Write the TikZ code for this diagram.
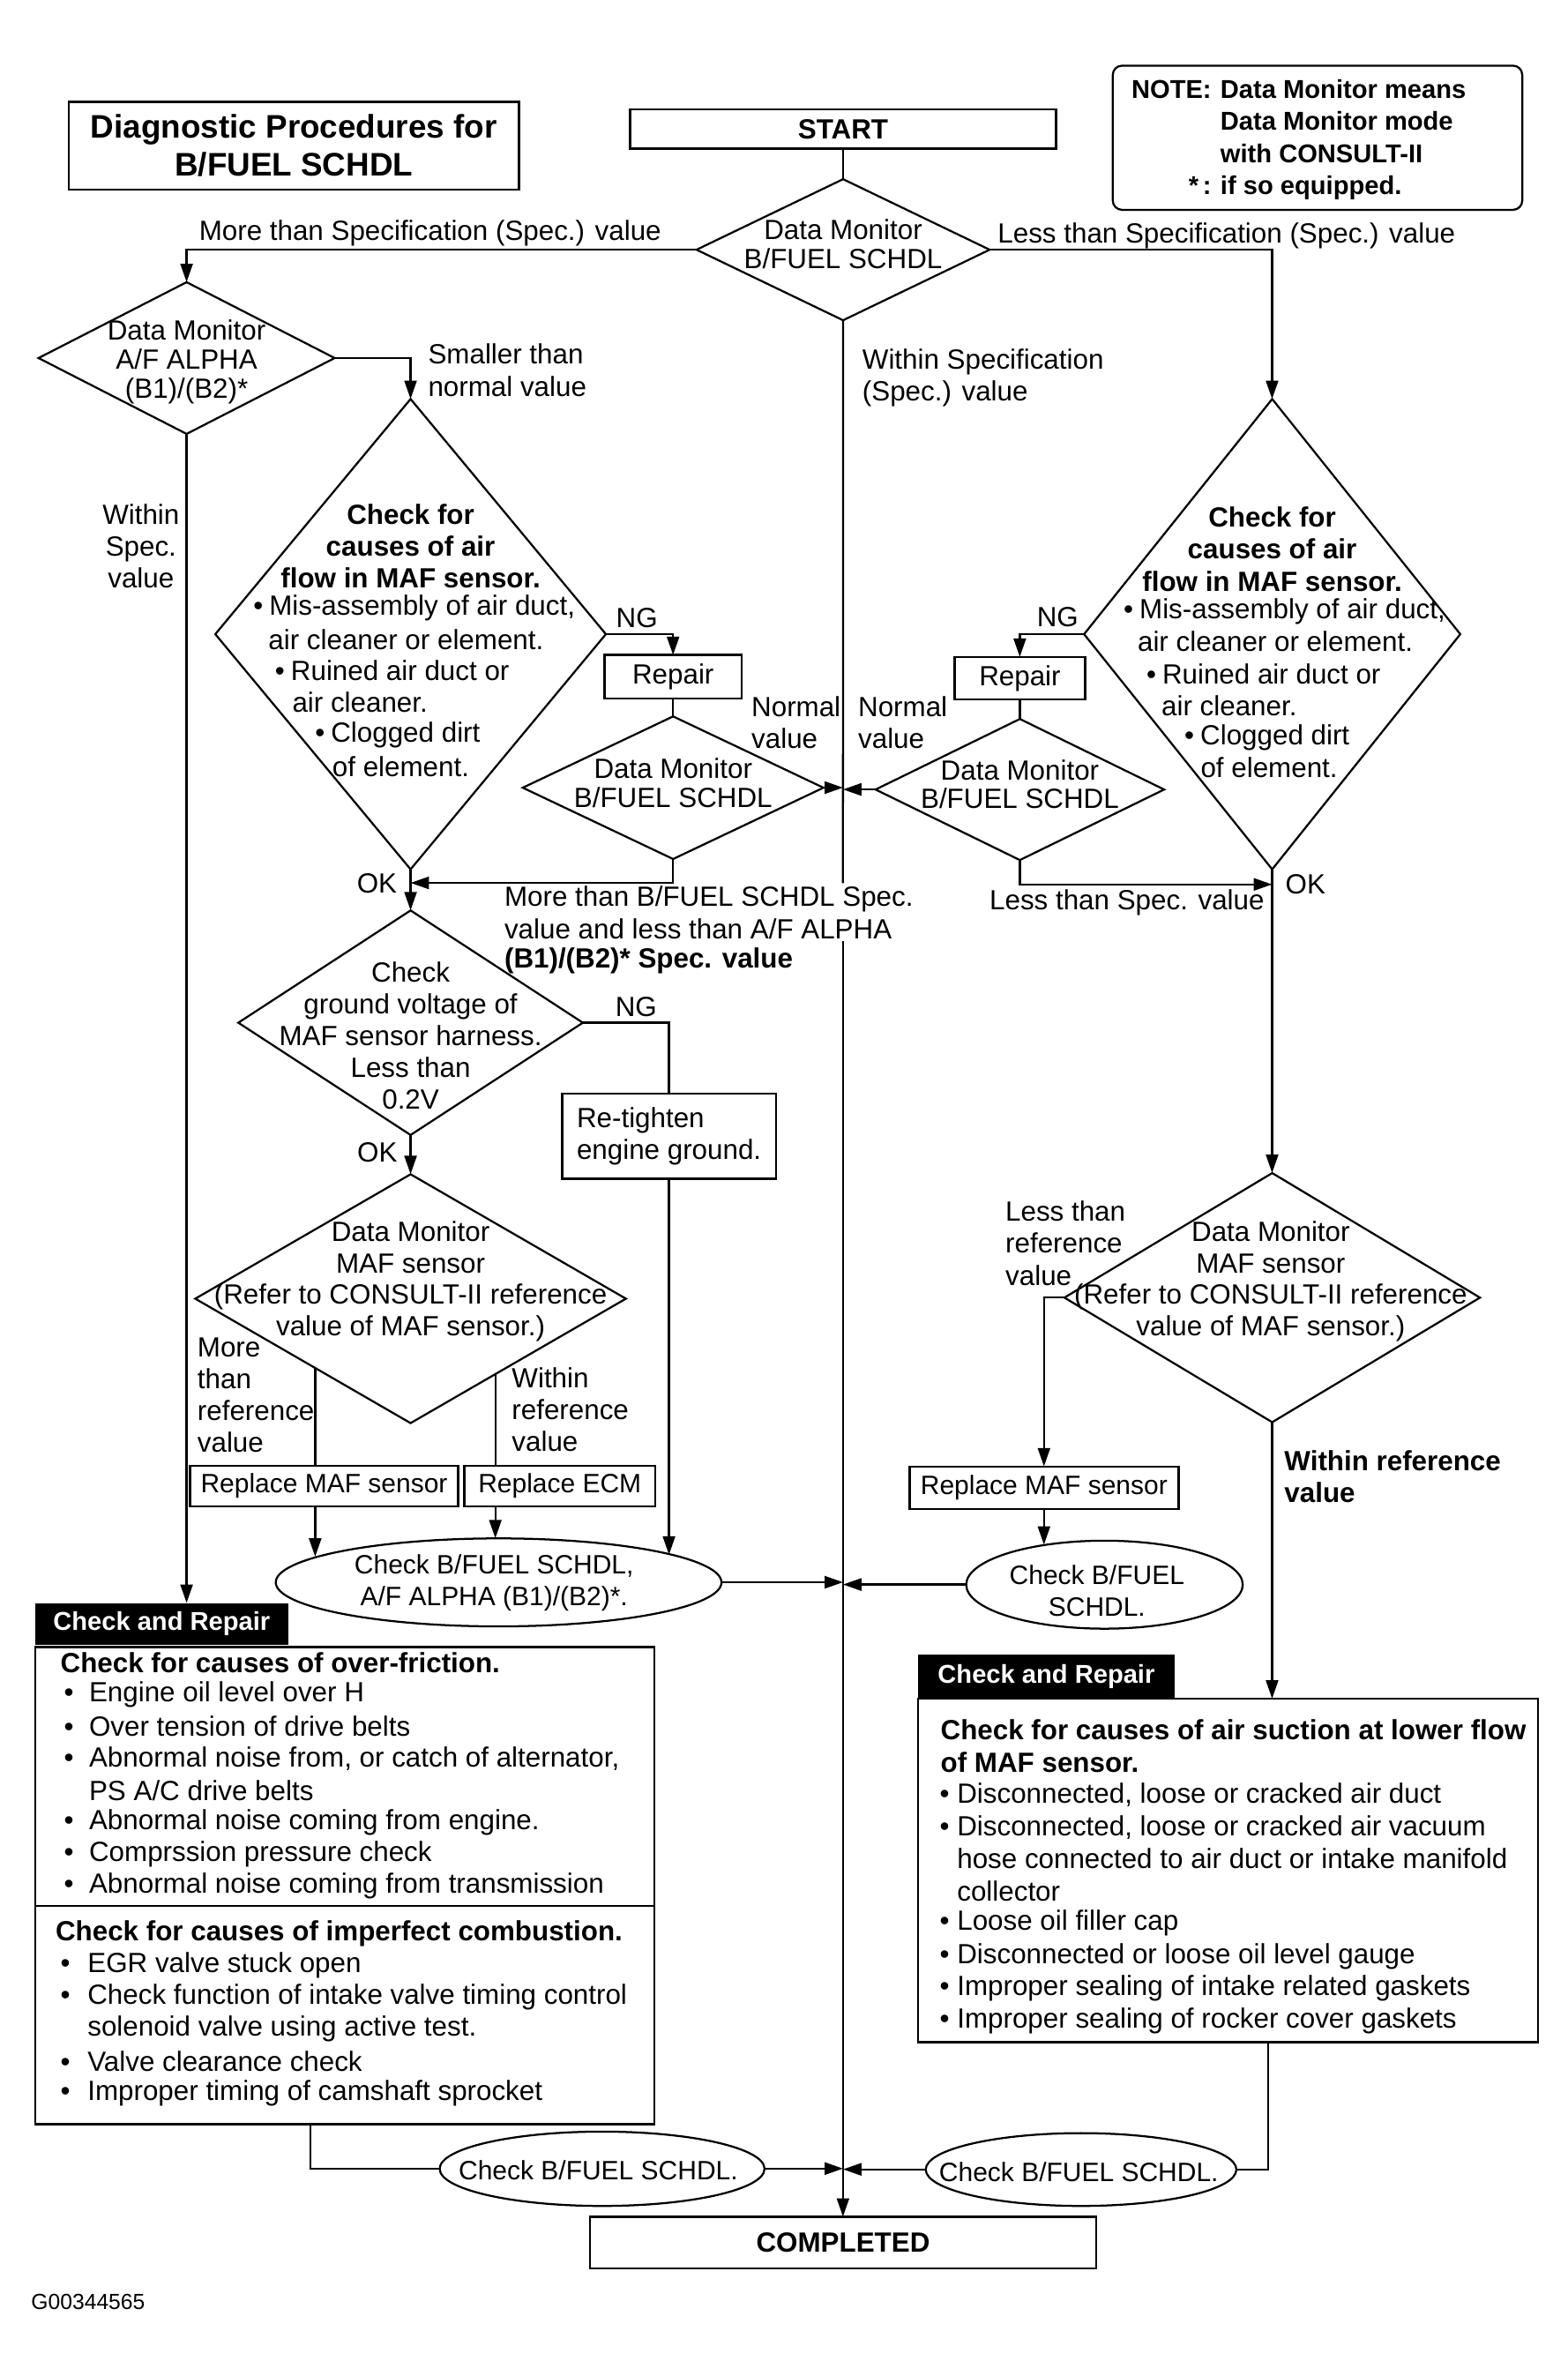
\documentclass[tikz,border=0pt]{standalone}
\usepackage{fontspec}
\setmainfont{Liberation Sans}
\usetikzlibrary{arrows.meta,shapes.geometric,calc}
\newcommand\mybul[1][10.5pt]{\makebox[#1][l]{\textbullet}}
\begin{document}
\begin{tikzpicture}[x=1pt,y=-1pt,xscale=0.987,yscale=0.991,
  every node/.style={inner sep=0pt, outer sep=0pt, transform shape, font=\fontsize{18.3}{21}\selectfont},
  ln/.style={line width=1.3pt},
  arr/.style={line width=1.3pt,-{Triangle[length=12pt,width=8pt]}},
  box/.style={draw, line width=1.4pt},
  dia/.style={draw, shape=diamond, line width=1.3pt, inner sep=0pt},
  ell/.style={draw, shape=ellipse, line width=1.3pt, inner sep=0pt},
  hdr/.style={fill=black, text=white, font=\bfseries\fontsize{17}{21}\selectfont},
  bf/.style={font=\bfseries\fontsize{18.3}{21}\selectfont},
  t19/.style={font=\fontsize{18.3}{19}\selectfont},
  t20/.style={font=\fontsize{18.3}{20.7}\selectfont},
  sm/.style={font=\fontsize{17.5}{21}\selectfont},
]
\fill[white] (0,0) rectangle (1037.5,1566.1);
\useasboundingbox (0,0) rectangle (1037.5,1566.1);

% ---------- header ----------
\node[box, line width=1.6pt, minimum width=298pt, minimum height=58pt, align=center,
      font=\bfseries\fontsize{21.5}{25}\selectfont] (title) at (194.5,96) {Diagnostic Procedures for\\B/FUEL SCHDL};
\node[box, minimum width=282pt, minimum height=26pt, bf] (start) at (558,85) {START};
\node[draw, rounded corners=6pt, line width=1.3pt, minimum width=271pt, minimum height=95pt] (note) at (872,90.8) {};
\node[anchor=west, font=\bfseries\fontsize{17}{21.1}\selectfont] (notetext) at (748.9,92.2)
  {\begin{tabular}{@{}r@{\hspace{6pt}}l@{}}NOTE: & Data Monitor means\\ & Data Monitor mode\\ & with CONSULT-II\\ {*}\,: & if so equipped.\end{tabular}};

% ---------- top decision ----------
\node[dia, minimum width=194pt, minimum height=93pt] (d1) at (558,164.6) {};
\node[align=center, t19] (d1t) at (558,161) {Data Monitor\\B/FUEL SCHDL};
\draw[ln] (start.south) -- (d1.north);

\node[dia, minimum width=196pt, minimum height=100pt] (d2) at (123.5,236) {};
\node[align=center, t19] (d2t) at (123.5,238.6) {Data Monitor\\A/F ALPHA\\(B1)/(B2)*};

\node[dia, minimum width=258.5pt, minimum height=310pt] (dl) at (271.75,418) {};
\node[dia, minimum width=249pt, minimum height=310pt] (dr) at (842,418) {};

\node[box, minimum width=335pt, minimum height=34pt, bf] (comp) at (558,1478.2) {COMPLETED};

\draw[arr] (d1.west) -| (d2.north);
\node (lmore) at (284.7,153.6) {More than Specification (Spec.) value};
\draw[arr] (d1.east) -| (dr.north);
\node (lless) at (811.8,155.6) {Less than Specification (Spec.) value};
\node[anchor=west, align=left] (lmoreb) at (333.9,601.5) {More than B/FUEL SCHDL Spec.\\value and less than A/F ALPHA};
\node[anchor=west, bf] (lmoreb3) at (333.9,633) {(B1)/(B2)* Spec. value};
\coordinate (gapa) at ($(d1.south |- lmoreb.north)+(0,-2)$);
\coordinate (gapb) at ($(d1.south |- lmoreb.south)+(0,1.5)$);
\draw[ln] (d1.south) -- (gapa);
\draw[arr] (gapb) -- (gapb |- comp.north);
\node[anchor=west, align=left] (lwithin) at (570.8,249) {Within Specification\\(Spec.) value};

\draw[arr] (d2.east) -| (dl.north);
\node[anchor=west, align=left] (lsmall) at (283.4,244) {Smaller than\\normal value};
\node[align=center] (lwsv) at (93.3,359.8) {Within\\Spec.\\value};

% ---------- left big diamond ----------
\node[bf, align=center] (dlh) at (271.75,359.8) {Check for\\causes of air\\flow in MAF sensor.};
\node[anchor=west] (dl1) at (167.7,400.9) {\mybul Mis-assembly of air duct,};
\node[anchor=west] (dl2) at (177.7,421.6) {air cleaner or element.};
\node[anchor=west] (dl3) at (182.1,442) {\mybul Ruined air duct or};
\node[anchor=west] (dl4) at (193.5,463) {air cleaner.};
\node[anchor=west] (dl5) at (208.6,484.2) {\mybul Clogged dirt};
\node[anchor=west] (dl6) at (220,505.3) {of element.};

\node[box, minimum width=91pt, minimum height=28.5pt] (repl) at (445.5,446) {Repair};
\draw[arr] (dl.east) -| (repl.north);
\node (ngl) at (421.5,407.6) {NG};
\node[dia, minimum width=199pt, minimum height=94pt] (dml) at (445.5,519.2) {};
\node[align=center, t19] (dmlt) at (445.5,516) {Data Monitor\\B/FUEL SCHDL};
\draw[ln] (repl.south) -- (dml.north);
\draw[arr] (dml.east) -- (dml.east -| d1.south);
\node[anchor=west, align=left] (lnorml) at (497.4,476) {Normal\\value};
\coordinate (okl) at (271.75,582);
\draw[arr] (dml.south) |- (okl);
\node (okl1) at (249.5,582) {OK};

% ---------- right big diamond ----------
\node[bf, align=center] (drh) at (842,362) {Check for\\causes of air\\flow in MAF sensor.};
\node[anchor=west] (dr1) at (743.7,403) {\mybul Mis-assembly of air duct,};
\node[anchor=west] (dr2) at (753,423) {air cleaner or element.};
\node[anchor=west] (dr3) at (758.8,444) {\mybul Ruined air duct or};
\node[anchor=west] (dr4) at (768.8,465) {air cleaner.};
\node[anchor=west] (dr5) at (784,486) {\mybul Clogged dirt};
\node[anchor=west] (dr6) at (794.7,506) {of element.};

\node[box, minimum width=86.5pt, minimum height=28pt] (repr) at (675,447) {Repair};
\draw[arr] (dr.west) -| (repr.north);
\node (ngr) at (700,406.5) {NG};
\node[dia, minimum width=191pt, minimum height=93pt] (dmr) at (675,520.4) {};
\node[align=center, t19] (dmrt) at (675,517) {Data Monitor\\B/FUEL SCHDL};
\draw[ln] (repr.south) -- (dmr.north);
\draw[arr] (dmr.west) -- (dmr.west -| d1.south);
\node[anchor=west, align=left] (lnormr) at (568,476.5) {Normal\\value};
\coordinate (okrc) at (842,583);
\draw[arr] (dmr.south) |- (okrc);
\node (okr) at (864,583) {OK};
\node[anchor=west] (lless2) at (655,595) {Less than Spec. value};

% ---------- ground voltage ----------
\node[dia, minimum width=228pt, minimum height=148pt] (g) at (271.75,674.1) {};
\node[align=center] (gt) at (271.75,682.7) {Check\\ground voltage of\\MAF sensor harness.\\Less than\\0.2V};
\draw[arr] (dl.south) -- (g.north);
\node[box, minimum width=141.6pt, minimum height=56pt, align=left] (rt) at (442.8,749) {Re-tighten\\engine ground.};
\draw[ln] (g.east) -| (rt.north);
\node (ngg) at (421,663.4) {NG};

% ---------- MAF left ----------
\node[dia, minimum width=285pt, minimum height=164pt] (mafl) at (271.75,856) {};
\node[align=center, t20] (maflt) at (271.75,844.5) {Data Monitor\\MAF sensor\\(Refer to CONSULT-II reference\\value of MAF sensor.)};
\draw[arr] (g.south) -- (mafl.north);
\node (okl2) at (249.7,759.6) {OK};

\node[box, minimum width=177.5pt, minimum height=27pt, sm] (rmafl) at (214.5,979.5) {Replace MAF sensor};
\node[box, minimum width=126.5pt, minimum height=27pt, sm] (recm) at (370.5,979.5) {Replace ECM};
\node[ell, minimum width=295pt, minimum height=58pt] (e1) at (330,1043) {};
\node[align=center, sm] (e1t) at (327,1043.5) {Check B/FUEL SCHDL,\\A/F ALPHA (B1)/(B2)*.};

\coordinate (pl) at ($(mafl.west)!0.557!(mafl.south)$);
\coordinate (pr) at ($(mafl.south)!0.394!(mafl.east)$);
\draw[ln] (pl) -- (pl |- rmafl.north);
\draw[ln] (pr) -- (pr |- recm.north);
\draw[arr] (pl |- rmafl.south) -- (pl |- e1.172.4);
\draw[arr] (pr |- recm.south) -- (pr |- e1.north);
\draw[arr] (rt.south) -- (rt.south |- e1.9.3);
\draw[arr] (e1.east) -- (e1.east -| d1.south);
\node[anchor=west, align=left] (lmoreref) at (130.7,919.5) {More\\than\\reference\\value};
\node[anchor=west, align=left] (lwithref) at (338.8,929.3) {Within\\reference\\value};

% ---------- MAF right ----------
\node[dia, minimum width=275pt, minimum height=164.2pt] (mafr) at (842,855.3) {};
\node[align=center, t20] (mafrt) at (841,844.5) {Data Monitor\\MAF sensor\\(Refer to CONSULT-II reference\\value of MAF sensor.)};
\draw[arr] (dr.south) -- (mafr.north);
\node[box, minimum width=178pt, minimum height=28pt, sm] (rmafr) at (691,980.6) {Replace MAF sensor};
\draw[arr] (mafr.west) -| (rmafr.north);
\node[anchor=west, align=left] (llessref) at (665.5,819.5) {Less than\\reference\\value};
\node[ell, minimum width=183pt, minimum height=58pt] (e2) at (731,1044.5) {};
\node[align=center, sm] (e2t) at (726,1048.4) {Check B/FUEL\\SCHDL.};
\draw[arr] (rmafr.south) -- (rmafr.south |- e2.146.7);
\draw[arr] (e2.west) -- (e2.west -| d1.south);
\node[anchor=west, align=left, bf] (lwithref2) at (850.1,973.5) {Within reference\\value};

% ---------- Check and Repair left ----------
\node[hdr, minimum width=167.2pt, minimum height=27.4pt, anchor=south west] (crlh) at (23.4,1084) {Check and Repair};
\node[box, minimum width=409.6pt, minimum height=314.5pt, anchor=north west] (crl) at (23.4,1085.5) {};
\draw[ln] ($(crl.north west)+(0,171)$) -- ($(crl.north east)+(0,171)$);
\draw[arr] (d2.south) -- (d2.south |- crlh.north);
\node[anchor=west, bf] (cl0) at (40.1,1096) {Check for causes of over-friction.};
\node[anchor=west] (cl1) at (42.4,1117) {\mybul[16.6pt]Engine oil level over H};
\node[anchor=west] (cl2) at (42.4,1138) {\mybul[16.6pt]Over tension of drive belts};
\node[anchor=west] (cl3) at (42.4,1159) {\mybul[16.6pt]Abnormal noise from, or catch of alternator,};
\node[anchor=west] (cl4) at (59,1180) {PS A/C drive belts};
\node[anchor=west] (cl5) at (42.4,1201) {\mybul[16.6pt]Abnormal noise coming from engine.};
\node[anchor=west] (cl6) at (42.4,1222) {\mybul[16.6pt]Comprssion pressure check};
\node[anchor=west] (cl7) at (42.4,1243) {\mybul[16.6pt]Abnormal noise coming from transmission};
\node[anchor=west, bf] (cl8) at (36.8,1274.6) {Check for causes of imperfect combustion.};
\node[anchor=west] (cl9) at (40,1295.5) {\mybul[18pt]EGR valve stuck open};
\node[anchor=west] (cl10) at (40,1316.4) {\mybul[18pt]Check function of intake valve timing control};
\node[anchor=west] (cl11) at (58,1337.3) {solenoid valve using active test.};
\node[anchor=west] (cl12) at (40,1358.8) {\mybul[18pt]Valve clearance check};
\node[anchor=west] (cl13) at (40,1379.8) {\mybul[18pt]Improper timing of camshaft sprocket};

% ---------- Check and Repair right ----------
\node[hdr, minimum width=169.6pt, minimum height=28.3pt, anchor=south west] (crrh) at (607.7,1119) {Check and Repair};
\node[box, minimum width=410.3pt, minimum height=226.3pt, anchor=north west] (crr) at (607.7,1119.7) {};
\draw[arr] (mafr.south) -- (mafr.south |- crr.north);
\node[anchor=west, bf] (cr0) at (622.6,1140) {Check for causes of air suction at lower flow};
\node[anchor=west, bf] (cr1) at (622.6,1161.8) {of MAF sensor.};
\node[anchor=west] (cr2) at (622,1183.3) {\mybul[11.5pt]Disconnected, loose or cracked air duct};
\node[anchor=west] (cr3) at (622,1204.8) {\mybul[11.5pt]Disconnected, loose or cracked air vacuum};
\node[anchor=west] (cr4) at (633.5,1225) {hose connected to air duct or intake manifold};
\node[anchor=west] (cr5) at (633.5,1246.6) {collector};
\node[anchor=west] (cr6) at (622,1267.5) {\mybul[11.5pt]Loose oil filler cap};
\node[anchor=west] (cr7) at (622,1289.4) {\mybul[11.5pt]Disconnected or loose oil level gauge};
\node[anchor=west] (cr8) at (622,1310.3) {\mybul[11.5pt]Improper sealing of intake related gaskets};
\node[anchor=west] (cr9) at (622,1332) {\mybul[11.5pt]Improper sealing of rocker cover gaskets};

% ---------- bottom ----------
\node[ell, minimum width=215pt, minimum height=49pt] (e3) at (398.5,1429.5) {};
\node[sm] (e3t) at (396,1430.7) {Check B/FUEL SCHDL.};
\node[ell, minimum width=205.6pt, minimum height=48pt] (e4) at (715.5,1430) {};
\node[sm] (e4t) at (714,1431.5) {Check B/FUEL SCHDL.};
\coordinate (cl) at ($(crl.south west)+(182.2,0)$);
\coordinate (cr) at ($(crr.south west)+(231.7,0)$);
\draw[ln] (cl) |- (e3.west);
\draw[ln] (cr) |- (e4.east);
\draw[arr] (e3.east) -- (e3.east -| d1.south);
\draw[arr] (e4.west) -- (e4.west -| d1.south);

\node[anchor=west, font=\fontsize{14.4}{16}\selectfont] (gid) at (20.7,1517) {G00344565};
\end{tikzpicture}
\end{document}
